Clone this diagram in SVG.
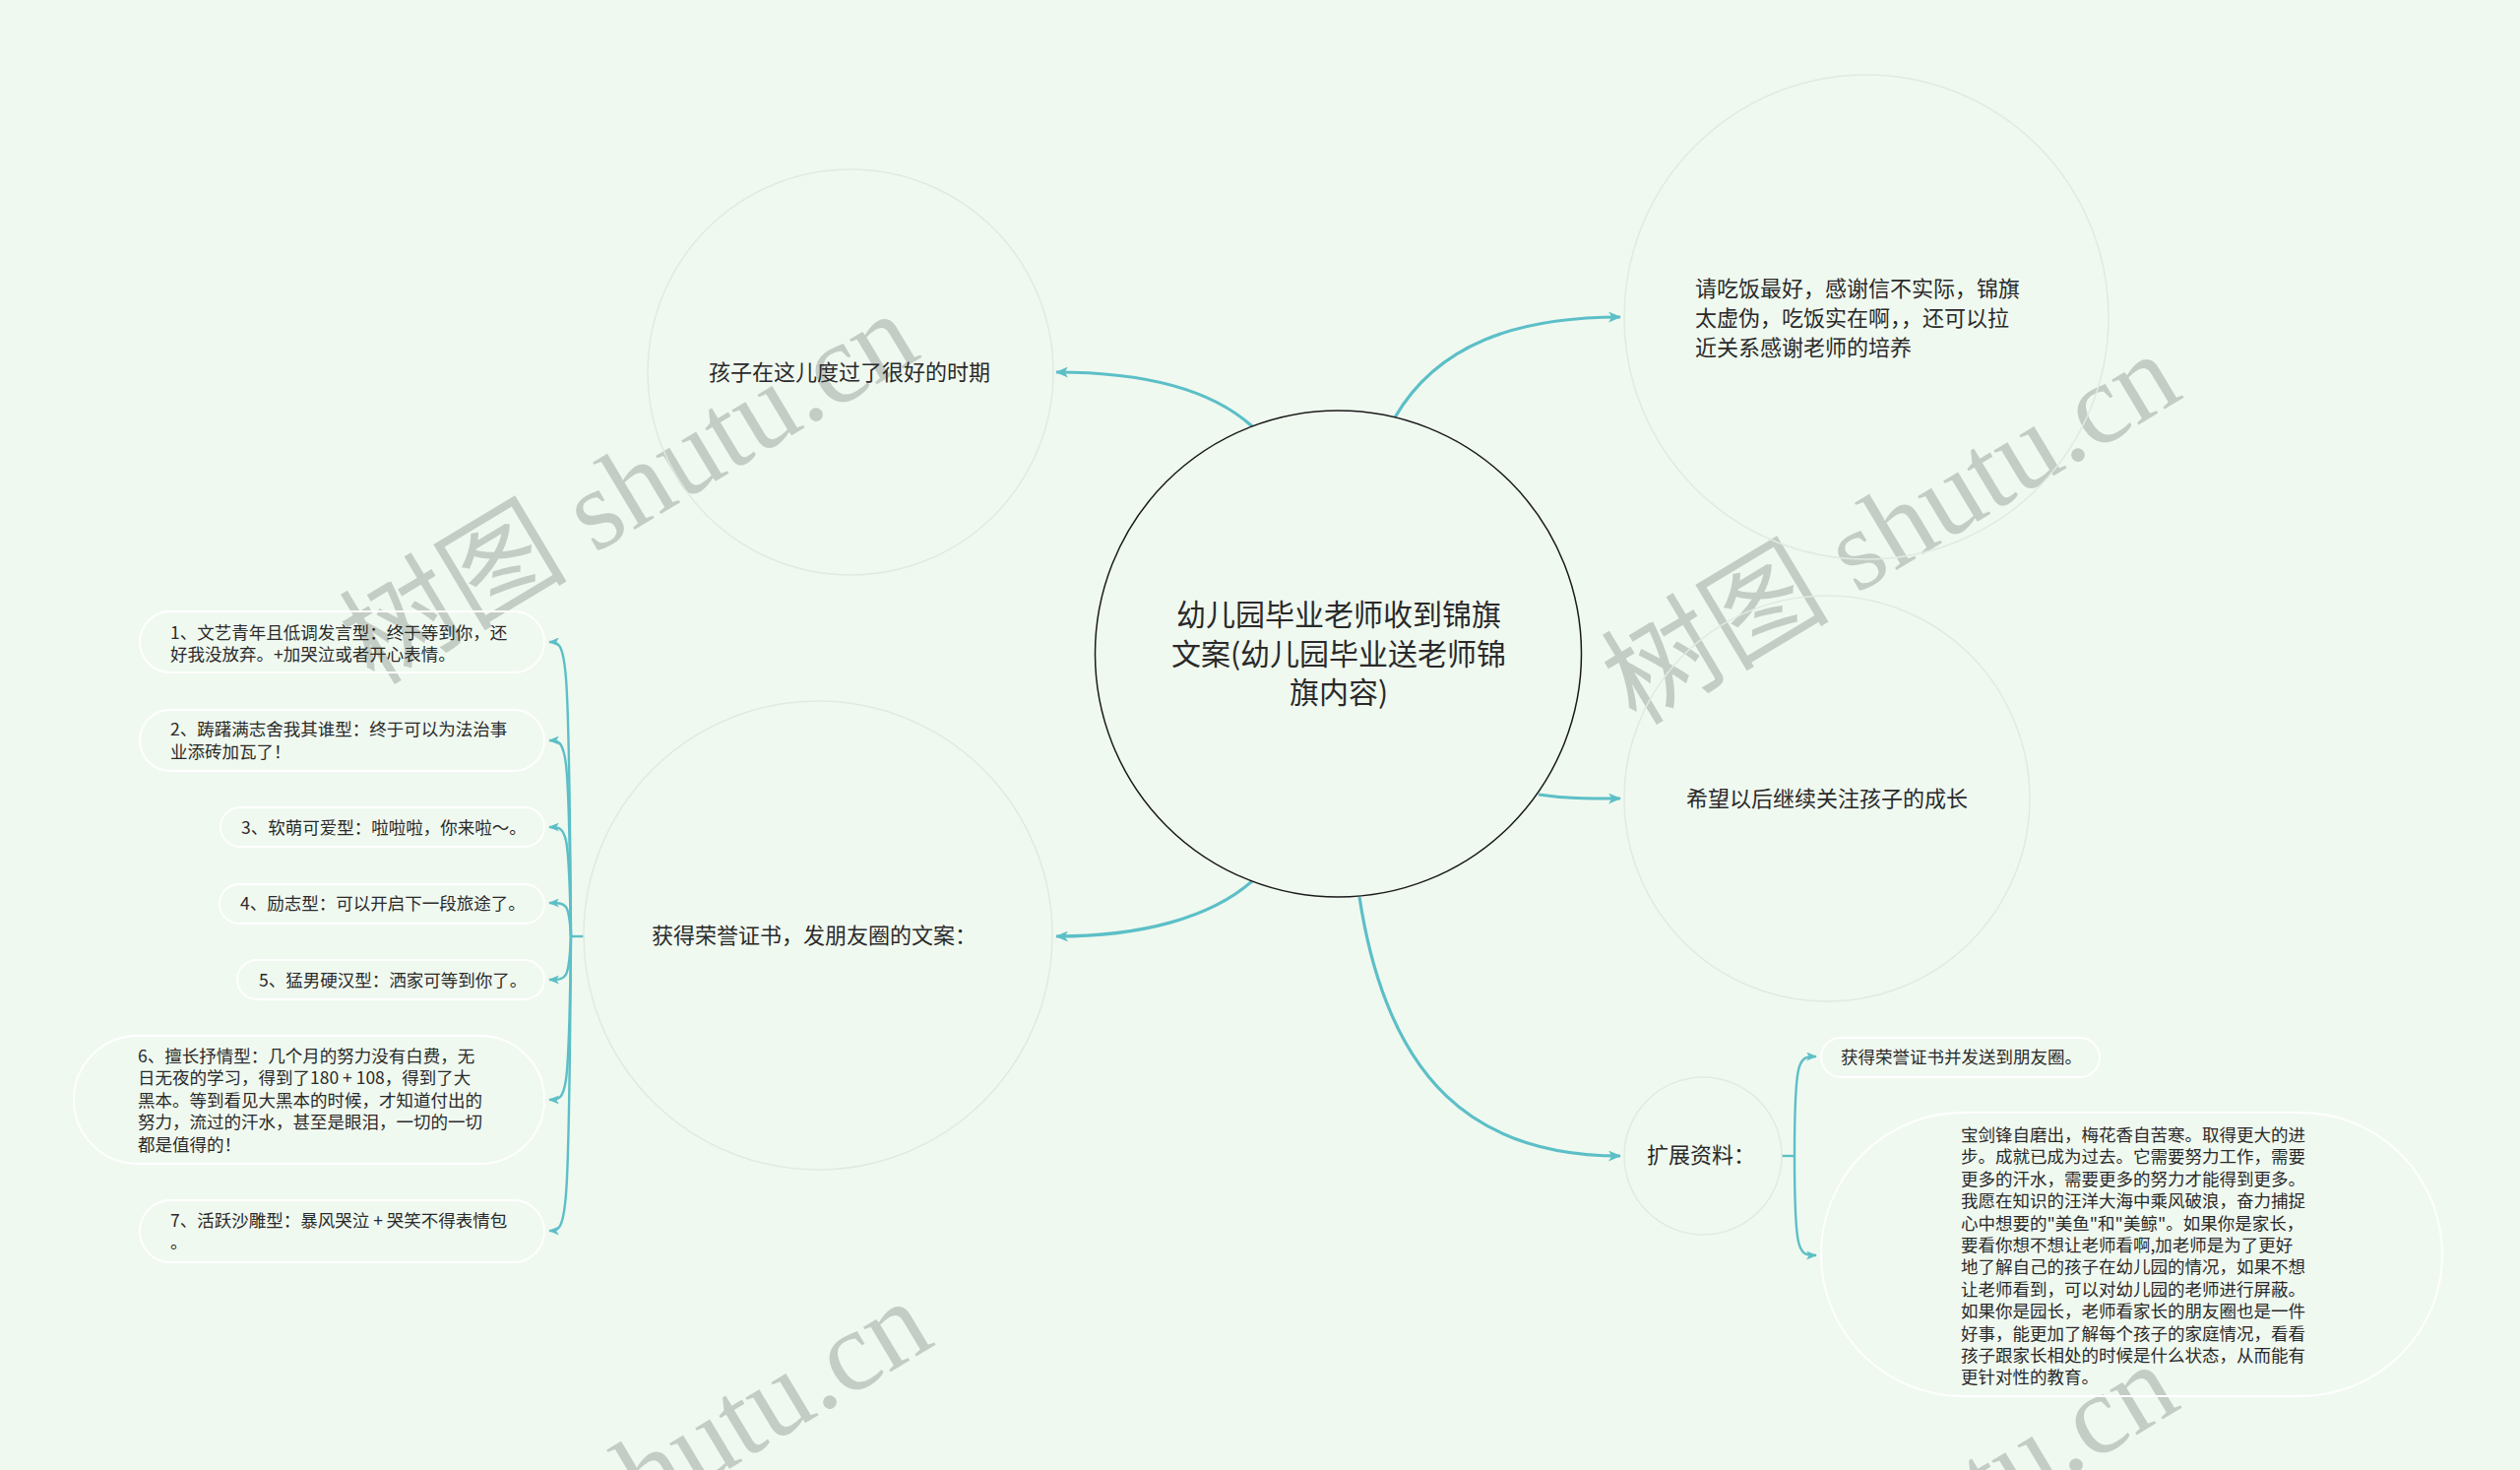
<svg xmlns="http://www.w3.org/2000/svg" width="2560" height="1493" viewBox="0 0 2560 1493">
<style>
.t{font-family:'Noto Sans CJK SC','Noto Sans',sans-serif;fill:#2a2a2a}
.big{font-size:30px}
.mid{font-size:22px}
.sm{font-size:17.5px}
.ring{fill:none;stroke:#e1eae2;stroke-width:1.5}
.pill{fill:none;stroke:#ffffff;stroke-width:1.8}
.c{fill:none;stroke:#5cbfc7;stroke-width:3.2}
.cs{fill:none;stroke:#5cbfc7;stroke-width:2.4}
.wm{font-family:'Liberation Serif','Noto Sans CJK SC',serif;font-size:116px;fill:#c4cdc5}
</style>
<defs>
<marker id="arr" viewBox="0 0 12 10" refX="11" refY="5" markerWidth="13" markerHeight="11" markerUnits="userSpaceOnUse" orient="auto"><path d="M0,0 L12,5 L0,10 L3,5 z" fill="#5cbfc7"/></marker>
<marker id="arrs" viewBox="0 0 12 10" refX="11" refY="5" markerWidth="11" markerHeight="9" markerUnits="userSpaceOnUse" orient="auto"><path d="M0,0 L12,5 L0,10 L3,5 z" fill="#5cbfc7"/></marker>
</defs>
<rect width="2560" height="1493" fill="#f0f9f0"/>
<g id="watermark">
<text class="wm" transform="translate(380,697) rotate(-31)">树图 shutu.cn</text>
<text class="wm" transform="translate(1662,738) rotate(-31)">树图 shutu.cn</text>
<text class="wm" transform="translate(394,1700) rotate(-31)">树图 shutu.cn</text>
<text class="wm" transform="translate(1660,1764) rotate(-31)">树图 shutu.cn</text>
</g>
<g id="connectors">
<path class="c" marker-end="url(#arr)" d="M1272,433 C1230,395 1160,378 1073,378"/>
<path class="c" marker-end="url(#arr)" d="M1417,424 C1460,350 1540,322 1646,322"/>
<path class="c" marker-end="url(#arr)" d="M1563,807 C1590,811 1610,811 1646,811"/>
<path class="c" marker-end="url(#arr)" d="M1272,895 C1230,932 1160,951 1073,951"/>
<path class="c" marker-end="url(#arr)" d="M1381,911 C1410,1100 1500,1174 1646,1174"/>
<path class="cs" d="M593,951 L580,951"/>
<path class="cs" marker-end="url(#arrs)" d="M580,951 C578,652 576,652 558,652"/>
<path class="cs" marker-end="url(#arrs)" d="M580,951 C578,752 576,752 558,752"/>
<path class="cs" marker-end="url(#arrs)" d="M580,951 C578,840 576,840 558,840"/>
<path class="cs" marker-end="url(#arrs)" d="M580,951 C578,917 576,917 558,917"/>
<path class="cs" marker-end="url(#arrs)" d="M580,951 C578,995 576,995 558,995"/>
<path class="cs" marker-end="url(#arrs)" d="M580,951 C578,1117 576,1117 558,1117"/>
<path class="cs" marker-end="url(#arrs)" d="M580,951 C578,1250 576,1250 558,1250"/>
<path class="cs" d="M1810,1174 L1823,1174"/>
<path class="cs" marker-end="url(#arrs)" d="M1823,1174 C1823,1073 1827,1073 1845,1073"/>
<path class="cs" marker-end="url(#arrs)" d="M1823,1174 C1823,1275 1827,1275 1845,1275"/>
</g>
<g id="root">
<circle cx="1359.5" cy="664" r="247" fill="#f0f9f0" stroke="#1a1a1a" stroke-width="1.5"/>
<text class="t big" text-anchor="middle" x="1360" y="635">幼儿园毕业老师收到锦旗</text>
<text class="t big" text-anchor="middle" x="1360" y="675">文案(幼儿园毕业送老师锦</text>
<text class="t big" text-anchor="middle" x="1360" y="714">旗内容)</text>
</g>
<g id="node-a">
<circle class="ring" cx="864" cy="378" r="206"/>
<text class="t mid" text-anchor="middle" x="863" y="386">孩子在这儿度过了很好的时期</text>
</g>
<g id="node-b">
<circle class="ring" cx="1896" cy="322" r="246"/>
<text class="t mid" x="1722" y="301">请吃饭最好，感谢信不实际，锦旗</text>
<text class="t mid" x="1722" y="331">太虚伪，吃饭实在啊，，还可以拉</text>
<text class="t mid" x="1722" y="361">近关系感谢老师的培养</text>
</g>
<g id="node-c">
<circle class="ring" cx="1856" cy="811" r="206"/>
<text class="t mid" text-anchor="middle" x="1856" y="819">希望以后继续关注孩子的成长</text>
</g>
<g id="node-d">
<circle class="ring" cx="831" cy="950" r="238"/>
<text class="t mid" x="662" y="958">获得荣誉证书，发朋友圈的文案：</text>
</g>
<g id="node-d1">
<rect class="pill" x="142" y="621" width="411" height="62" rx="31"/>
<text class="t sm" x="173" y="649">1、文艺青年且低调发言型：终于等到你，还</text>
<text class="t sm" x="173" y="671">好我没放弃。+加哭泣或者开心表情。</text>
</g>
<g id="node-d2">
<rect class="pill" x="142" y="721" width="411" height="62" rx="31"/>
<text class="t sm" x="173" y="747">2、踌躇满志舍我其谁型：终于可以为法治事</text>
<text class="t sm" x="173" y="770">业添砖加瓦了！</text>
</g>
<g id="node-d3">
<rect class="pill" x="224" y="820" width="329" height="40" rx="20"/>
<text class="t sm" x="245" y="847">3、软萌可爱型：啦啦啦，你来啦～。</text>
</g>
<g id="node-d4">
<rect class="pill" x="223" y="898" width="330" height="40" rx="20"/>
<text class="t sm" x="244" y="924">4、励志型：可以开启下一段旅途了。</text>
</g>
<g id="node-d5">
<rect class="pill" x="241" y="975" width="312" height="40" rx="20"/>
<text class="t sm" x="263" y="1002">5、猛男硬汉型：洒家可等到你了。</text>
</g>
<g id="node-d6">
<rect class="pill" x="75" y="1052" width="478" height="130" rx="65"/>
<text class="t sm" x="140" y="1079">6、擅长抒情型：几个月的努力没有白费，无</text>
<text class="t sm" x="140" y="1101">日无夜的学习，得到了180 + 108，得到了大</text>
<text class="t sm" x="140" y="1123.5">黑本。等到看见大黑本的时候，才知道付出的</text>
<text class="t sm" x="140" y="1146">努力，流过的汗水，甚至是眼泪，一切的一切</text>
<text class="t sm" x="140" y="1168.5">都是值得的！</text>
</g>
<g id="node-d7">
<rect class="pill" x="142" y="1219" width="411" height="63" rx="31.5"/>
<text class="t sm" x="173" y="1246">7、活跃沙雕型：暴风哭泣 + 哭笑不得表情包</text>
<text class="t sm" x="173" y="1268">。</text>
</g>
<g id="node-e">
<circle class="ring" cx="1730" cy="1174" r="80"/>
<text class="t mid" x="1673" y="1181">扩展资料：</text>
</g>
<g id="node-e1">
<rect class="pill" x="1850" y="1054" width="283" height="40" rx="20"/>
<text class="t sm" x="1870" y="1080">获得荣誉证书并发送到朋友圈。</text>
</g>
<g id="node-e2">
<rect class="pill" x="1850" y="1130" width="631" height="288" rx="144"/>
<text class="t sm" x="1992" y="1159">宝剑锋自磨出，梅花香自苦寒。取得更大的进</text>
<text class="t sm" x="1992" y="1181.4">步。成就已成为过去。它需要努力工作，需要</text>
<text class="t sm" x="1992" y="1203.8">更多的汗水，需要更多的努力才能得到更多。</text>
<text class="t sm" x="1992" y="1226.2">我愿在知识的汪洋大海中乘风破浪，奋力捕捉</text>
<text class="t sm" x="1992" y="1248.6">心中想要的"美鱼"和"美鲸"。如果你是家长，</text>
<text class="t sm" x="1992" y="1271">要看你想不想让老师看啊,加老师是为了更好</text>
<text class="t sm" x="1992" y="1293.4">地了解自己的孩子在幼儿园的情况，如果不想</text>
<text class="t sm" x="1992" y="1315.8">让老师看到，可以对幼儿园的老师进行屏蔽。</text>
<text class="t sm" x="1992" y="1338.2">如果你是园长，老师看家长的朋友圈也是一件</text>
<text class="t sm" x="1992" y="1360.6">好事，能更加了解每个孩子的家庭情况，看看</text>
<text class="t sm" x="1992" y="1383">孩子跟家长相处的时候是什么状态，从而能有</text>
<text class="t sm" x="1992" y="1405.4">更针对性的教育。</text>
</g>
</svg>
